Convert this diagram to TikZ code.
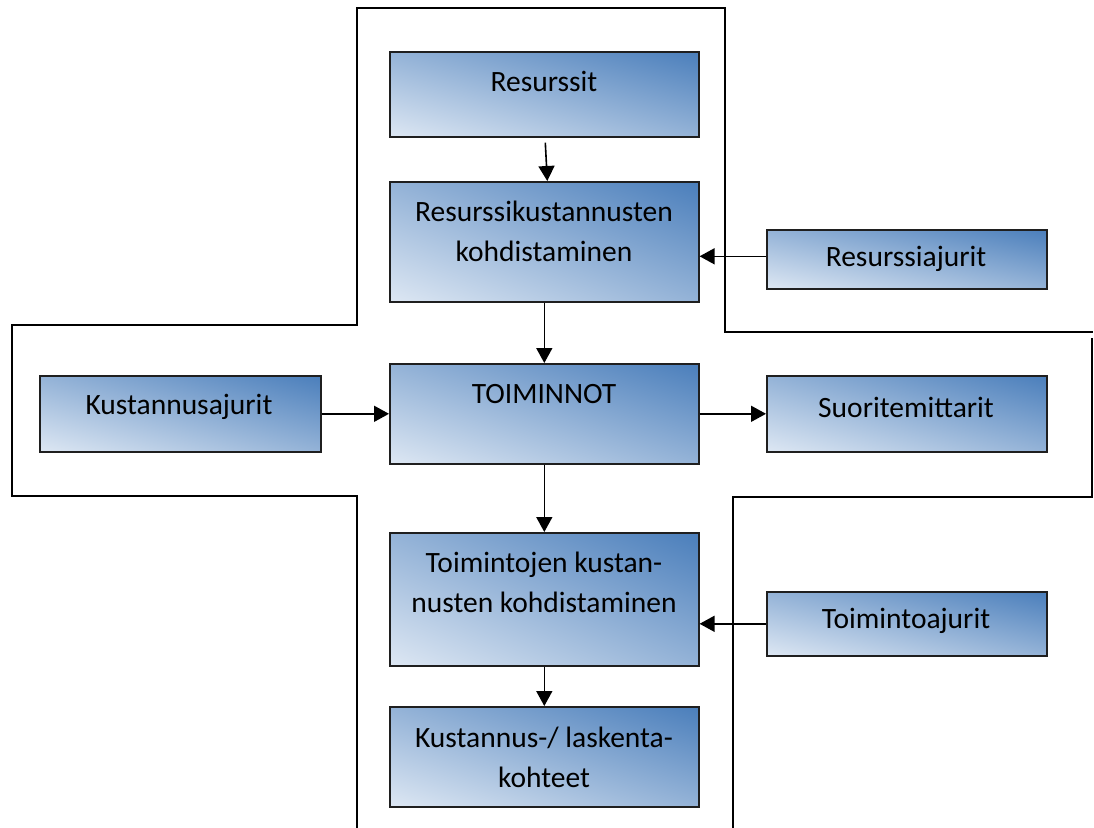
\documentclass[tikz,border=0pt]{standalone}
\usepackage{fontspec}
\setmainfont{Carlito}
\usetikzlibrary{arrows.meta,calc}
\definecolor{bdark}{HTML}{4A7EBB}
\definecolor{blight}{HTML}{DDE7F3}
\tikzset{
  box/.style={draw=black!88, line width=1.6pt, anchor=north west, inner sep=0pt},
  txt/.style={font=\fontsize{29.5}{40}\selectfont, align=center, inner sep=0pt},
  arr/.style={line width=1.6pt, -{Triangle[length=15pt,width=16pt]}},
  frame/.style={line width=2pt, line cap=rect}
}
\newcommand\gradbox[5]{%
  \pgfmathsetmacro\gbD{veclen(#4,#5)}%
  \pgfmathsetmacro\gbA{atan(#5/#4)}%
  \pgfmathsetmacro\gbd{#4/\gbD*#5}%
  \pgfmathsetmacro\gbDD{2*\gbD}%
  \pgfmathsetmacro\gbdd{2*\gbd}%
  \coordinate (gbc) at ($(#2,#3)+(#4/2,#5/2)$);
  \begin{scope}
    \clip (#2,#3) rectangle ++(#4,#5);
    \shade[top color=bdark, bottom color=blight,
      transform canvas={rotate around={-\gbA:(gbc)}}]
      (gbc) ++(-\gbD pt,-\gbd pt) rectangle ++(\gbDD pt,\gbdd pt);
  \end{scope}
  \node[box, minimum width=#4pt, minimum height=#5pt] (#1) at (#2,#3) {};
}
\begin{document}
\begin{tikzpicture}[x=1pt,y=-1pt]
\useasboundingbox (0,0) rectangle (1094,827);
% outline
\draw[frame] (357,323) -- (357,8) -- (725,8) -- (725,332) -- (1092,332);
\draw[frame] (357,325) -- (12,325) -- (12,496) -- (357,496) -- (357,828);
\draw[frame] (1092,339) -- (1092,497) -- (733,497) -- (733,828);
% boxes
\gradbox{res}{389}{51}{309}{85}
\node[txt] at (544,81) {Resurssit};
\gradbox{rk}{389}{181}{309}{120}
\node[txt] at (544,231) {Resurssikustannusten\\kohdistaminen};
\gradbox{ra}{766}{229}{280}{59}
\node[txt] at (906,259) {Resurssiajurit};
\gradbox{toi}{389}{363}{309}{100}
\node[txt] at (544,394) {TOIMINNOT};
\gradbox{ka}{39}{375}{281}{76}
\node[txt] at (179,407) {Kustannusajurit};
\gradbox{sm}{766}{375}{280}{76}
\node[txt] at (906,407) {Suoritemittarit};
\gradbox{tk}{389}{532}{309}{133}
\node[txt] at (544,582) {Toimintojen kustan-\\nusten kohdistaminen};
\gradbox{ta}{766}{591}{280}{64}
\node[txt] at (906,621) {Toimintoajurit};
\gradbox{kl}{389}{706}{309}{100}
\node[txt] at (544,757) {Kustannus-/ laskenta-\\kohteet};
% connectors
\draw[arr] ([xshift=1pt,yshift=-5pt]res.south) -- ([xshift=3pt]rk.north);
\draw[arr] ([yshift=3pt]ra.west) -- ([yshift=3pt]ra.west -| rk.east);
\draw[arr] (rk.south) -- (toi.north);
\draw[arr] (ka.east) -- (ka.east -| toi.west);
\draw[arr] (toi.east |- sm.west) -- (sm.west);
\draw[arr] (toi.south) -- (tk.north);
\draw[arr] (ta.west) -- (ta.west -| tk.east);
\draw[arr] (tk.south) -- (kl.north);
\end{tikzpicture}
\end{document}
